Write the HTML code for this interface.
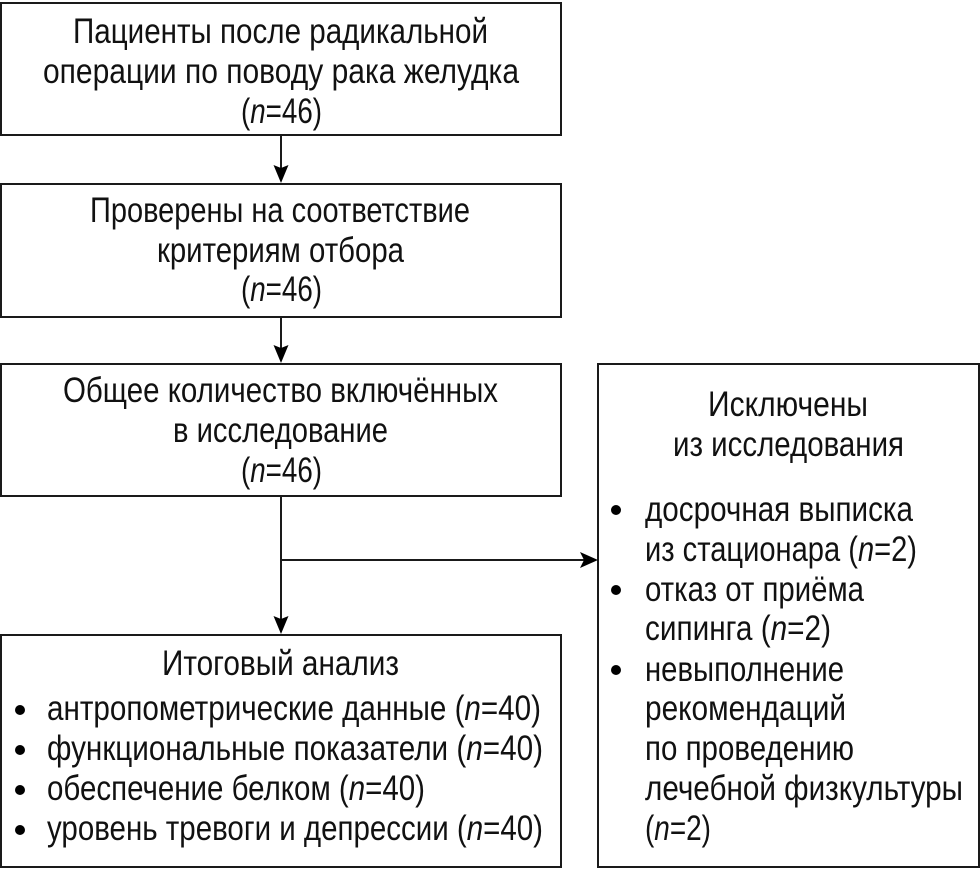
<!DOCTYPE html>
<html lang="ru">
<head>
<meta charset="utf-8">
<style>
html,body{margin:0;padding:0;background:#fff;width:980px;height:870px;overflow:hidden}
svg{display:block}
text{font-family:"Liberation Sans",sans-serif;font-size:35px;fill:#111}
rect{fill:#fff;stroke:#1a1a1a;stroke-width:2}
line{stroke:#1a1a1a;stroke-width:2}
.i{font-style:italic}
</style>
</head>
<body>
<svg width="980" height="870" viewBox="0 0 980 870" xmlns="http://www.w3.org/2000/svg">
<rect x="1" y="3" width="560" height="132"/>
<rect x="1" y="184" width="560" height="133"/>
<rect x="1" y="364" width="560" height="132"/>
<rect x="1" y="635" width="560" height="232"/>
<rect x="598" y="364" width="381" height="503"/>

<line x1="281" y1="135" x2="281" y2="170"/>
<polygon points="273.5,165 281,168 288.5,165 281,183" fill="#000"/>
<line x1="281" y1="317" x2="281" y2="350"/>
<polygon points="273.5,345 281,348 288.5,345 281,363" fill="#000"/>
<line x1="281" y1="496" x2="281" y2="620"/>
<polygon points="273.5,616 281,619 288.5,616 281,634" fill="#000"/>
<line x1="281" y1="560" x2="585" y2="560"/>
<polygon points="580,552 584,560 580,568 598,560" fill="#000"/>

<text x="73" y="43" textLength="415" lengthAdjust="spacingAndGlyphs">Пациенты после радикальной</text>
<text x="43" y="83" textLength="476" lengthAdjust="spacingAndGlyphs">операции по поводу рака желудка</text>
<text x="241" y="123" textLength="81" lengthAdjust="spacingAndGlyphs">(<tspan class="i">n</tspan>=46)</text>

<text x="90" y="222" textLength="380" lengthAdjust="spacingAndGlyphs">Проверены на соответствие</text>
<text x="157" y="262" textLength="247" lengthAdjust="spacingAndGlyphs">критериям отбора</text>
<text x="241" y="301" textLength="81" lengthAdjust="spacingAndGlyphs">(<tspan class="i">n</tspan>=46)</text>

<text x="63" y="402" textLength="435" lengthAdjust="spacingAndGlyphs">Общее количество включённых</text>
<text x="173" y="442" textLength="215" lengthAdjust="spacingAndGlyphs">в исследование</text>
<text x="241" y="482" textLength="81" lengthAdjust="spacingAndGlyphs">(<tspan class="i">n</tspan>=46)</text>

<text x="162" y="675" textLength="237" lengthAdjust="spacingAndGlyphs">Итоговый анализ</text>
<circle cx="20" cy="710" r="5" fill="#000"/>
<text x="47" y="720" textLength="494" lengthAdjust="spacingAndGlyphs">антропометрические данные (<tspan class="i">n</tspan>=40)</text>
<circle cx="20" cy="750" r="5" fill="#000"/>
<text x="47" y="760" textLength="496" lengthAdjust="spacingAndGlyphs">функциональные показатели (<tspan class="i">n</tspan>=40)</text>
<circle cx="20" cy="790" r="5" fill="#000"/>
<text x="47" y="800" textLength="378" lengthAdjust="spacingAndGlyphs">обеспечение белком (<tspan class="i">n</tspan>=40)</text>
<circle cx="20" cy="830" r="5" fill="#000"/>
<text x="47" y="840" textLength="496" lengthAdjust="spacingAndGlyphs">уровень тревоги и депрессии (<tspan class="i">n</tspan>=40)</text>

<text x="708" y="416" textLength="160" lengthAdjust="spacingAndGlyphs">Исключены</text>
<text x="673" y="456" textLength="231" lengthAdjust="spacingAndGlyphs">из исследования</text>

<circle cx="616" cy="510" r="5" fill="#000"/>
<text x="645" y="521" textLength="268" lengthAdjust="spacingAndGlyphs">досрочная выписка</text>
<text x="645" y="561" textLength="272" lengthAdjust="spacingAndGlyphs">из стационара (<tspan class="i">n</tspan>=2)</text>
<circle cx="616" cy="590" r="5" fill="#000"/>
<text x="645" y="601" textLength="219" lengthAdjust="spacingAndGlyphs">отказ от приёма</text>
<text x="645" y="640" textLength="186" lengthAdjust="spacingAndGlyphs">сипинга (<tspan class="i">n</tspan>=2)</text>
<circle cx="616" cy="670" r="5" fill="#000"/>
<text x="645" y="681" textLength="199" lengthAdjust="spacingAndGlyphs">невыполнение</text>
<text x="645" y="720" textLength="201" lengthAdjust="spacingAndGlyphs">рекомендаций</text>
<text x="645" y="760" textLength="209" lengthAdjust="spacingAndGlyphs">по проведению</text>
<text x="645" y="800" textLength="318" lengthAdjust="spacingAndGlyphs">лечебной физкультуры</text>
<text x="645" y="840" textLength="66" lengthAdjust="spacingAndGlyphs">(<tspan class="i">n</tspan>=2)</text>
</svg>
</body>
</html>
